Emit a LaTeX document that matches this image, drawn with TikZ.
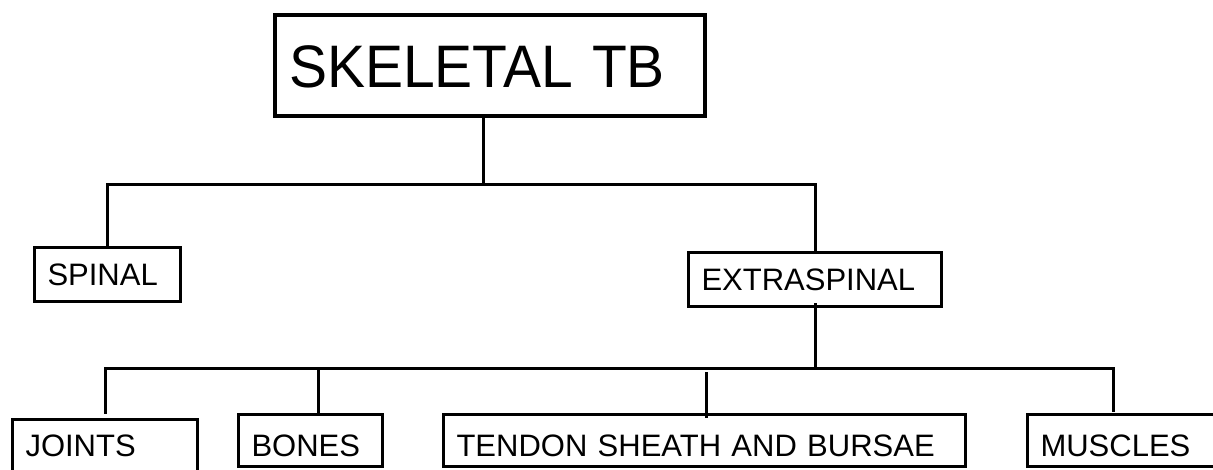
\documentclass[tikz,border=0pt]{standalone}
\usepackage{fontspec}
\setmainfont{Liberation Sans}
\begin{document}
\begin{tikzpicture}[x=1pt,y=-1pt,
  box/.style={draw, rectangle, line width=3.2pt, anchor=north west, outer sep=0pt,
    inner xsep=13pt, inner ysep=0pt, align=left,
    font=\fontsize{31}{31}\selectfont, text height=22pt, text depth=0pt},
  lowtext/.style={text height=31pt, text depth=0pt},
  conn/.style={line width=3pt, line cap=rect}]
\useasboundingbox (0,0) rectangle (1213,469);
\clip (0,0) rectangle (1213,469);

% root
\node[box, line width=4.5pt, inner xsep=14pt, minimum height=101pt, text width=402pt,
  font=\fontsize{60}{60}\selectfont, text height=44pt]
  (root) at (275,15) {\scalebox{0.95}[1]{SKELETAL TB}};

% first level
\node[box, minimum height=54pt, text width=120pt] (spinal) at (34.5,247.5) {SPINAL};
\node[box, minimum height=54pt, text width=227pt] (extra) at (688.5,252.5) {EXTRASPINAL};

% second level
\node[box, minimum height=52pt, text width=159pt] (joints) at (12.5,419.5) {JOINTS};
\node[box, lowtext, minimum height=52pt, text width=118pt] (bones) at (238.5,414.5) {BONES};
\node[box, lowtext, minimum height=52pt, text width=496pt] (tendon) at (443.5,414.5) {TENDON SHEATH AND BURSAE};
\node[box, lowtext, minimum height=52pt, text width=224pt] (muscles) at (1027.5,414.5) {MUSCLES};

% bus lines
\coordinate (busA) at (0,184);
\coordinate (busB) at (0,368);
\coordinate (rootOut) at ([xshift=-7pt]root.south);
\coordinate (jointsIn) at ([yshift=7pt]joints.north);
\coordinate (bonesIn) at ([xshift=7.5pt]bones.north);
\coordinate (tendonIn) at ([xshift=1.5pt,yshift=-2pt]tendon.north);
\coordinate (tendonOut) at (tendonIn |- 0,373);
\coordinate (musclesIn) at (1113,410);
\coordinate (extraOut) at ([yshift=2pt]extra.south);

\draw[conn] (rootOut) -- (rootOut |- busA);
\draw[conn] (spinal.north) -- (spinal.north |- busA) -- (extra.north |- busA) -- (extra.north);

\draw[conn] (extraOut) -- (extraOut |- busB);
\draw[conn] (jointsIn) -- (jointsIn |- busB) -- (musclesIn |- busB) -- (musclesIn);
\draw[conn] (bonesIn) -- (bonesIn |- busB);
\draw[conn] (tendonOut) -- (tendonIn);
\end{tikzpicture}
\end{document}
